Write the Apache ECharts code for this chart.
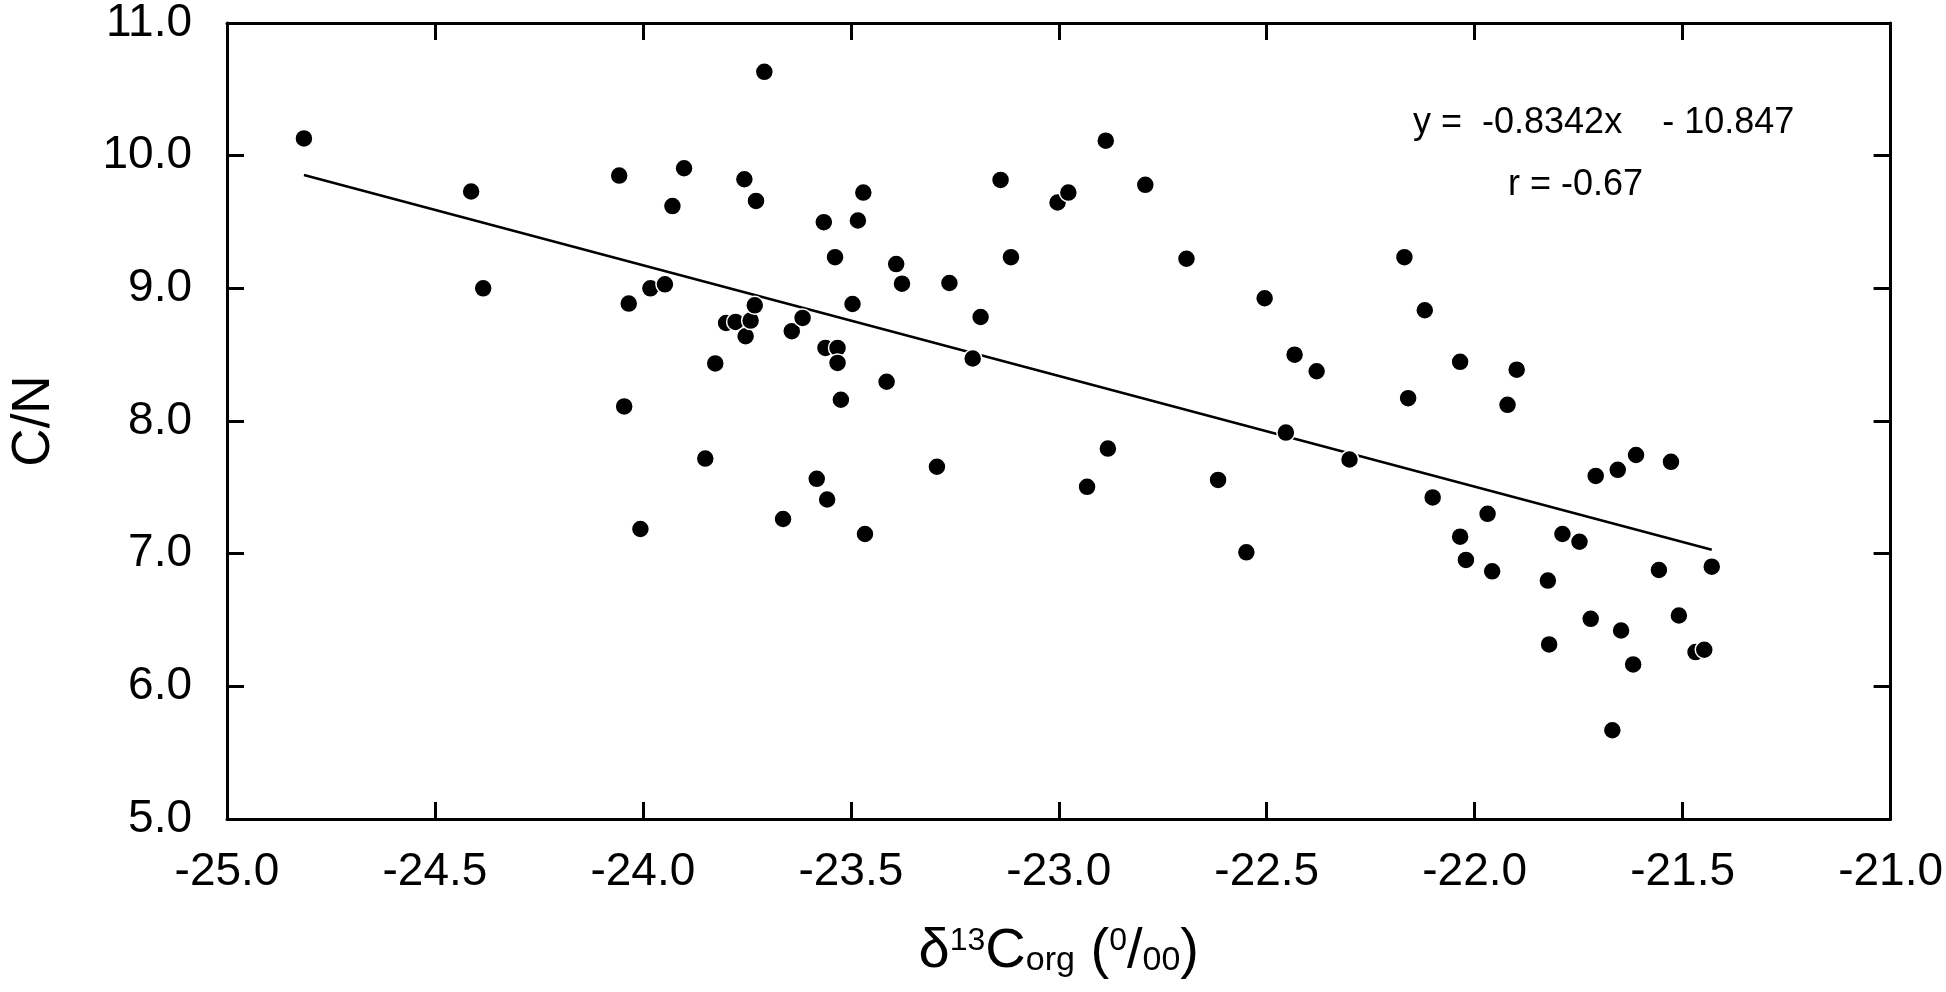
<!DOCTYPE html>
<html>
<head>
<meta charset="utf-8">
<script src="https://cdn.jsdelivr.net/npm/echarts@6/dist/echarts.min.js"></script>
<style>
html,body{margin:0;padding:0;background:#fff;}
#chart{width:1946px;height:992px;}
</style>
</head>
<body>
<div id="chart"></div>
<script>
// δ13Corg (‰) values
const d13C = [
  -24.815, -24.413, -24.384, -24.057, -24.045, -24.034, -24.006, -23.982, -23.947, -23.929,
  -23.901, -23.850, -23.826, -23.800, -23.777, -23.756, -23.753, -23.741, -23.731, -23.728,
  -23.708, -23.663, -23.642, -23.616, -23.582, -23.565, -23.561, -23.557, -23.538, -23.532,
  -23.532, -23.524, -23.496, -23.483, -23.470, -23.466, -23.414, -23.391, -23.377, -23.293,
  -23.263, -23.207, -23.188, -23.140, -23.115, -23.003, -22.977, -22.932, -22.887, -22.882,
  -22.792, -22.693, -22.617, -22.549, -22.505, -22.454, -22.433, -22.380, -22.301, -22.169,
  -22.160, -22.120, -22.101, -22.035, -22.035, -22.021, -21.969, -21.958, -21.921, -21.899,
  -21.824, -21.821, -21.789, -21.748, -21.721, -21.709, -21.669, -21.656, -21.648, -21.619,
  -21.612, -21.557, -21.528, -21.509, -21.469, -21.448, -21.430
];
// C/N values
const cn = [
  10.13, 9.73, 9.00, 9.85, 8.11, 8.885, 7.186, 9.00, 9.03, 9.62,
  9.905, 7.717, 8.434, 8.739, 8.747, 9.822, 8.639, 8.757, 8.872, 9.659,
  10.632, 7.261, 8.677, 8.777, 7.564, 9.499, 8.551, 7.408, 9.235, 8.551,
  8.438, 8.16, 8.882, 9.511, 9.722, 7.148, 8.296, 9.183, 9.035, 7.655,
  9.040, 8.471, 8.784, 9.817, 9.235, 9.647, 9.722, 7.504, 10.113, 7.792,
  9.780, 9.223, 7.556, 7.010, 8.925, 7.913, 8.50, 8.375, 7.71, 9.235,
  8.172, 8.835, 7.424, 8.446, 7.128, 6.953, 7.30, 6.867, 8.122, 8.387,
  6.797, 6.316, 7.148, 7.09, 6.509, 7.586, 5.669, 7.632, 6.421, 6.165,
  7.744, 6.877, 7.692, 6.534, 6.258, 6.276, 6.902
];
// Regression reported on the chart
const slope = -0.8342;
const intercept = -10.847;
const rValue = -0.67;
const xTickLabels = ['-25.0','-24.5','-24.0','-23.5','-23.0','-22.5','-22.0','-21.5','-21.0'];
const yTickLabels = ['5.0','6.0','7.0','8.0','9.0','10.0','11.0'];

const points = d13C.map((x, i) => [x, cn[i]]);
const xLo = Math.min(...d13C), xHi = Math.max(...d13C);
const fitLine = [[xLo, slope * xLo + intercept], [xHi, slope * xHi + intercept]];

const FONT = '"Liberation Sans", Arial, Helvetica, sans-serif';
const axisLine = { show: true, onZero: false, lineStyle: { color: '#000', width: 3 } };
const axisTick = { show: true, inside: true, length: 17, lineStyle: { color: '#000', width: 3 } };

const chart = echarts.init(document.getElementById('chart'), null, { renderer: 'canvas' });
chart.setOption({
  backgroundColor: '#fff',
  animation: false,
  textStyle: { fontFamily: FONT },
  grid: { left: 203, right: 47, top: 21, bottom: 173, containLabel: false },
  xAxis: [
    {
      type: 'value', position: 'bottom', min: -25, max: -21, interval: 0.5,
      axisLine, axisTick, splitLine: { show: false },
      axisLabel: {
        color: '#000', fontSize: 46, fontFamily: FONT, margin: 30,
        formatter: (v) => xTickLabels[Math.round((v + 25) / 0.5)]
      },
      name: 'δ{sup|13}C{sub|org} ({sup|0}/{sub|00})',
      nameLocation: 'middle', nameGap: 105,
      nameTextStyle: {
        color: '#000', fontSize: 56, fontFamily: FONT,
        rich: {
          sup: { fontSize: 32, padding: [0, 0, 22, 0], fontFamily: FONT, color: '#000' },
          sub: { fontSize: 34, padding: [18, 0, 0, 0], fontFamily: FONT, color: '#000' }
        }
      }
    },
    {
      type: 'value', position: 'top', min: -25, max: -21, interval: 0.5,
      axisLine, axisTick, splitLine: { show: false }, axisLabel: { show: false }
    }
  ],
  yAxis: [
    {
      type: 'value', position: 'left', min: 5, max: 11, interval: 1,
      axisLine, axisTick, splitLine: { show: false },
      axisLabel: {
        color: '#000', fontSize: 46, fontFamily: FONT, margin: 35,
        formatter: (v) => yTickLabels[Math.round(v - 5)]
      },
      name: 'C/N', nameLocation: 'middle', nameGap: 166, nameRotate: 90,
      nameTextStyle: { color: '#000', fontSize: 53, fontFamily: FONT }
    },
    {
      type: 'value', position: 'right', min: 5, max: 11, interval: 1,
      axisLine, axisTick, splitLine: { show: false }, axisLabel: { show: false }
    }
  ],
  graphic: [
    {
      type: 'text', x: 1413, y: 123,
      style: { text: 'y =  -0.8342x    - 10.847', font: '36px ' + FONT, fill: '#000', align: 'left', verticalAlign: 'middle' }
    },
    {
      type: 'text', x: 1508, y: 185,
      style: { text: 'r = ' + rValue.toFixed(2), font: '36px ' + FONT, fill: '#000', align: 'left', verticalAlign: 'middle' }
    }
  ],
  series: [
    {
      type: 'line', data: fitLine, showSymbol: false, symbol: 'none',
      lineStyle: { color: '#000', width: 2.5 }, z: 2, silent: true
    },
    {
      type: 'scatter', data: points, symbol: 'circle', symbolSize: 18,
      itemStyle: { color: '#000', borderColor: '#fff', borderWidth: 1.5, opacity: 1 },
      z: 3
    }
  ]
});
</script>
</body>
</html>
